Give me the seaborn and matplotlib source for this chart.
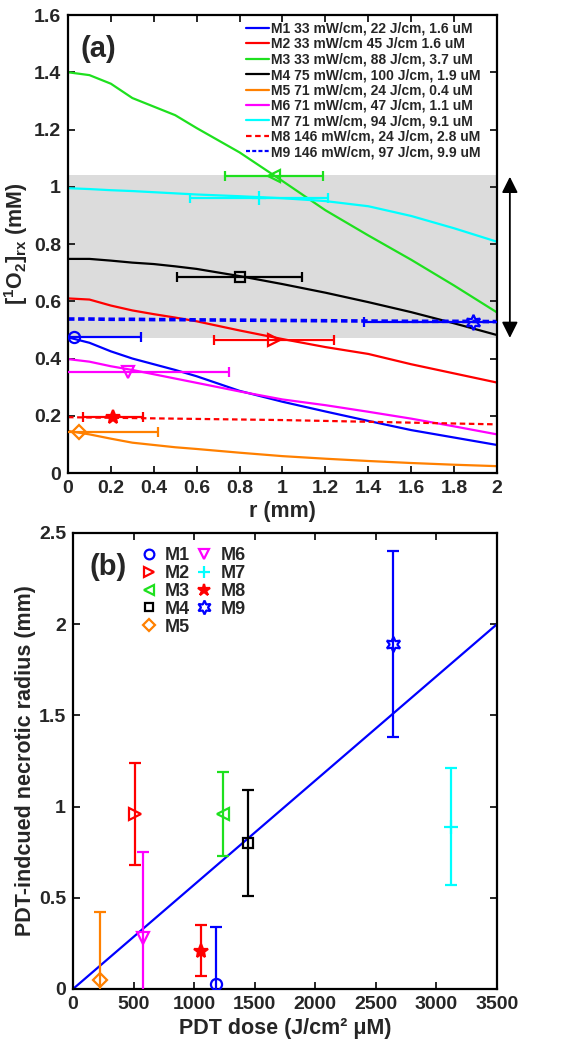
import matplotlib
matplotlib.use("Agg")
import matplotlib.pyplot as plt
import seaborn as sns
import pandas as pd
from matplotlib.lines import Line2D
from matplotlib.ticker import FuncFormatter, MultipleLocator

# ---- data --------------------------------------------------------------
names = ["M1", "M2", "M3", "M4", "M5", "M6", "M7", "M8", "M9"]
labels_a = ["M1 33 mW/cm, 22 J/cm, 1.6 uM",
            "M2 33 mW/cm 45 J/cm 1.6 uM",
            "M3 33 mW/cm, 88 J/cm, 3.7 uM",
            "M4 75 mW/cm, 100 J/cm, 1.9 uM",
            "M5 71 mW/cm, 24 J/cm, 0.4 uM",
            "M6 71 mW/cm, 47 J/cm, 1.1 uM",
            "M7 71 mW/cm, 94 J/cm, 9.1 uM",
            "M8 146 mW/cm, 24 J/cm, 2.8 uM",
            "M9 146 mW/cm, 97 J/cm, 9.9 uM"]
colors = ["#0000ff", "#ff0000", "#1ee01e", "#000000", "#ff8000",
          "#ff00ff", "#00ffff", "#ff0000", "#0000ff"]
linestyles = ["-", "-", "-", "-", "-", "-", "-", (0, (2.5, 1.6)), (0, (1.8, 1.0))]
linewidths = [1.6, 1.6, 1.6, 1.6, 1.6, 1.6, 1.6, 1.6, 2.6]
markers = ["o", ">", "<", "s", "D", "v", "+", "*", (6, 1, 0)]
msizes = [8, 8, 8, 7, 7, 8, 10, 10, 11]
filled = [False, False, False, False, False, False, False, True, False]

r_mm = [0, 0.1, 0.2, 0.3, 0.4, 0.5, 0.6, 0.8, 1.0, 1.2, 1.4, 1.6, 1.8, 2.0]
o2_m1 = [0.474, 0.455, 0.425, 0.400, 0.380, 0.360, 0.338, 0.287, 0.249, 0.215, 0.182, 0.150, 0.124, 0.098]
o2_m2 = [0.610, 0.606, 0.585, 0.568, 0.555, 0.543, 0.530, 0.498, 0.468, 0.440, 0.416, 0.380, 0.348, 0.316]
o2_m3 = [1.400, 1.390, 1.360, 1.310, 1.280, 1.250, 1.205, 1.120, 1.020, 0.918, 0.830, 0.745, 0.655, 0.561]
o2_m4 = [0.748, 0.748, 0.742, 0.735, 0.730, 0.722, 0.713, 0.688, 0.660, 0.630, 0.597, 0.562, 0.523, 0.482]
o2_m5 = [0.147, 0.135, 0.120, 0.106, 0.098, 0.090, 0.084, 0.071, 0.059, 0.050, 0.042, 0.035, 0.029, 0.024]
o2_m6 = [0.398, 0.389, 0.373, 0.360, 0.345, 0.330, 0.315, 0.285, 0.257, 0.237, 0.214, 0.190, 0.163, 0.135]
o2_m7 = [0.995, 0.992, 0.988, 0.985, 0.981, 0.977, 0.973, 0.967, 0.960, 0.950, 0.932, 0.898, 0.855, 0.808]
o2_m8 = [0.195, 0.194, 0.193, 0.192, 0.191, 0.190, 0.189, 0.187, 0.185, 0.182, 0.179, 0.176, 0.173, 0.170]
o2_m9 = [0.538, 0.538, 0.537, 0.537, 0.536, 0.536, 0.535, 0.534, 0.533, 0.532, 0.531, 0.530, 0.530, 0.529]
curves = [o2_m1, o2_m2, o2_m3, o2_m4, o2_m5, o2_m6, o2_m7, o2_m8, o2_m9]

# necrotic radius (mm) and its error, threshold [1O2]rx at that radius
radius = [0.03, 0.96, 0.96, 0.80, 0.05, 0.28, 0.89, 0.21, 1.89]
radius_err = [0.31, 0.28, 0.23, 0.29, 0.37, 0.47, 0.32, 0.14, 0.51]
o2_thresh = [0.474, 0.465, 1.039, 0.686, 0.144, 0.354, 0.960, 0.197, 0.529]
pdt_dose = [1180, 512, 1236, 1447, 225, 581, 3118, 1057, 2643]

band = [0.47, 1.04]
fit_dose = [0, 3500]
fit_radius = [0, 2.0]

# ---- style -------------------------------------------------------------
sns.set_style("ticks")
plt.rcParams["font.family"] = ["Liberation Sans", "DejaVu Sans"]
plt.rcParams["font.weight"] = "bold"
plt.rcParams["axes.labelweight"] = "bold"
plt.rcParams["mathtext.fontset"] = "custom"
plt.rcParams["mathtext.rm"] = "Liberation Sans:bold"
plt.rcParams["mathtext.it"] = "Liberation Sans:bold"
plt.rcParams["mathtext.bf"] = "Liberation Sans:bold"

fmt = FuncFormatter(lambda v, p: "%g" % round(v, 6))

fig = plt.figure(figsize=(5.61, 10.5), dpi=100)
ax1 = fig.add_axes([0.1212, 0.5495, 0.7647, 0.4362])
ax2 = fig.add_axes([0.1301, 0.0581, 0.7558, 0.4343])

for ax in (ax1, ax2):
    for s in ax.spines.values():
        s.set_linewidth(1.6)
        s.set_color("black")
    ax.tick_params(direction="in", top=True, right=True, length=5, width=1.4,
                   labelsize=14, pad=5)
    ax.xaxis.set_major_formatter(fmt)
    ax.yaxis.set_major_formatter(fmt)


def mfc(i):
    return colors[i] if filled[i] else "none"


# ---- panel (a) ---------------------------------------------------------
ax1.axhspan(band[0], band[1], color="#dcdcdc", zorder=0, lw=0)
for i in range(9):
    df = pd.DataFrame({"r": r_mm, "o2": curves[i]})
    sns.lineplot(data=df, x="r", y="o2", color=colors[i], linestyle=linestyles[i],
                 lw=linewidths[i], label=labels_a[i], ax=ax1, zorder=2)
for i in range(9):
    ax1.errorbar(radius[i], o2_thresh[i], xerr=radius_err[i], fmt="none",
                 ecolor=colors[i], elinewidth=1.6, capsize=3.8, capthick=1.6, zorder=3)
    ax1.plot(radius[i], o2_thresh[i], marker=markers[i], color=colors[i], ms=msizes[i],
             mew=1.6, mfc=mfc(i), ls="none", zorder=4)

ax1.set_xlim(0, 2)
ax1.set_ylim(0, 1.6)
ax1.xaxis.set_major_locator(MultipleLocator(0.2))
ax1.yaxis.set_major_locator(MultipleLocator(0.2))
ax1.set_xlabel("r (mm)", fontsize=15.5, labelpad=3)
ax1.set_ylabel(r"[$^{1}$O$_{2}$]$_{rx}$ (mM)", fontsize=15.5, labelpad=3)
ax1.text(0.03, 0.925, "(a)", transform=ax1.transAxes, fontsize=21,
         fontweight="bold", va="center", ha="left")
leg = ax1.legend(loc="upper right", bbox_to_anchor=(0.975, 0.997), frameon=False,
                 fontsize=10, handlelength=1.7, handletextpad=0.15, labelspacing=0.1,
                 borderaxespad=0.2, borderpad=0.2)
for h in leg.get_lines():
    h.set_linewidth(1.6)
ax1.annotate("", xy=(1.03, 1.035), xytext=(1.03, 0.472),
             xycoords=("axes fraction", "data"), textcoords=("axes fraction", "data"),
             arrowprops=dict(arrowstyle="<|-|>", color="black", lw=1.3,
                             mutation_scale=24, shrinkA=0, shrinkB=0),
             annotation_clip=False)

# ---- panel (b) ---------------------------------------------------------
fit_df = pd.DataFrame({"dose": fit_dose, "rad": fit_radius})
sns.lineplot(data=fit_df, x="dose", y="rad", color="#0000ff", lw=1.6, ax=ax2,
             legend=False, zorder=2)
handles = []
for i in range(9):
    ax2.errorbar(pdt_dose[i], radius[i], yerr=radius_err[i], fmt="none",
                 ecolor=colors[i], elinewidth=1.6, capsize=4.2, capthick=1.6, zorder=3)
    ax2.plot(pdt_dose[i], radius[i], marker=markers[i], color=colors[i], ms=msizes[i],
             mew=1.6, mfc=mfc(i), ls="none", zorder=4)
    handles.append(Line2D([], [], marker=markers[i], color=colors[i], ms=msizes[i] - 1,
                          mew=1.6, mfc=mfc(i), ls="none"))

ax2.set_xlim(0, 3500)
ax2.set_ylim(0, 2.5)
ax2.xaxis.set_major_locator(MultipleLocator(500))
ax2.yaxis.set_major_locator(MultipleLocator(0.5))
ax2.set_xlabel("PDT dose (J/cm\u00b2 \u03bcM)", fontsize=15.5, labelpad=4)
ax2.set_ylabel("PDT-indcued necrotic radius (mm)", fontsize=15.5, labelpad=2)
ax2.text(0.04, 0.925, "(b)", transform=ax2.transAxes, fontsize=21,
         fontweight="bold", va="center", ha="left")
ax2.legend(handles, names, loc="upper left", bbox_to_anchor=(0.14, 0.985), ncol=2,
           frameon=False, fontsize=13, handlelength=1.0, handletextpad=0.4,
           labelspacing=0.05, columnspacing=0.3, borderaxespad=0.2, borderpad=0.2)

fig.savefig("out.png", dpi=100)
